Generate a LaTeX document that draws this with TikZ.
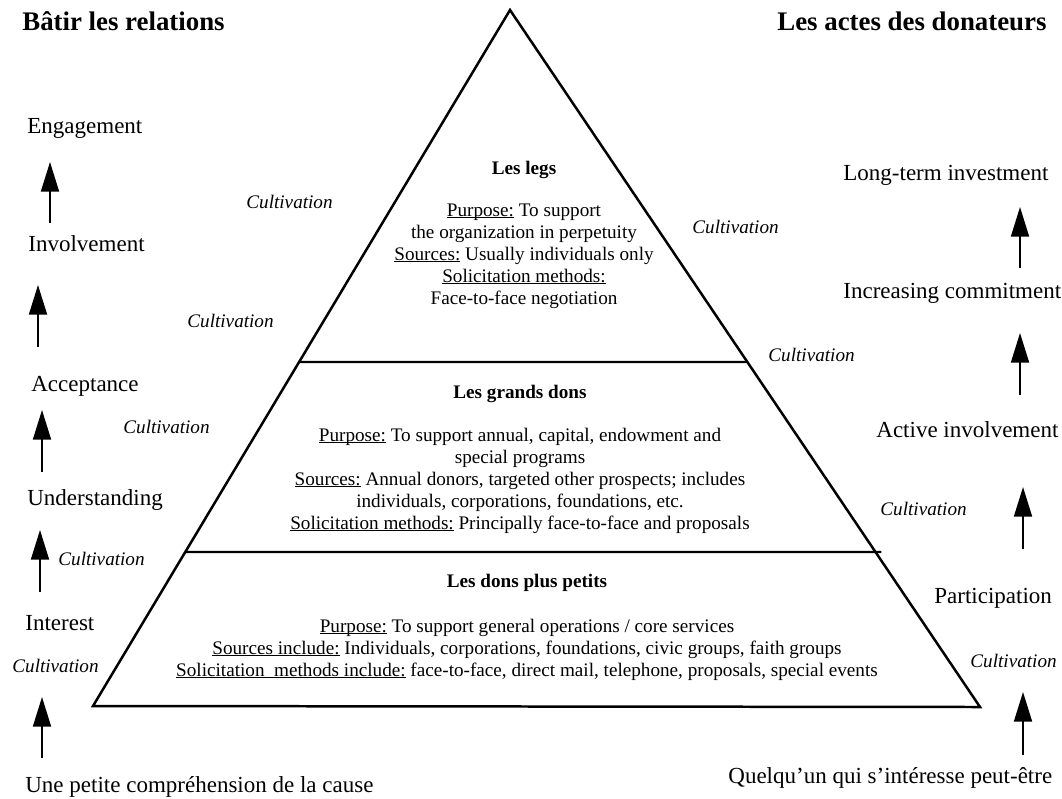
\documentclass[tikz,border=0pt]{standalone}
\usepackage{fontspec}
\setmainfont{Liberation Serif}
\usetikzlibrary{arrows.meta,calc}
\newsavebox\ulbox
\newcommand\ulx[1]{\sbox\ulbox{#1}\rlap{\rule[-1.2pt]{\wd\ulbox}{0.5pt}}\usebox\ulbox}
\begin{document}
\begin{tikzpicture}[x=0.5217pt,y=-0.5217pt,
  lbl/.style={inner sep=0pt, anchor=base west, font=\fontsize{12}{14}\selectfont},
  ttl/.style={inner sep=0pt, anchor=base west, font=\fontsize{14}{16}\selectfont\bfseries},
  cult/.style={inner sep=0pt, anchor=base west, font=\fontsize{10}{12}\selectfont\itshape},
  ptxt/.style={inner sep=0pt, anchor=base, font=\fontsize{10}{12}\selectfont},
  phead/.style={inner sep=0pt, anchor=base, font=\fontsize{10}{12}\selectfont\bfseries},
  pyrline/.style={line width=1.3pt, line join=miter},
  divline/.style={line width=1.1pt},
  arr/.style={line width=1pt, -{Triangle[length=15.5pt,width=9.4pt]}}]
\useasboundingbox (0,0) rectangle (1062,798);

% pyramid
\coordinate (A) at (510,10);
\coordinate (BL) at (93,706);
\coordinate (BR) at (980,707);
\draw[pyrline] (A) -- (BR) -- (BL) -- cycle;
\coordinate (d1l) at ($(A)!0.5057!(BL)$);
\coordinate (d1r) at ($(A)!0.5050!(BR)$);
\coordinate (d2l) at ($(A)!0.7787!(BL)$);
\coordinate (d2r) at ($(A)!0.7776!(BR)+(6,0)$);
\draw[divline] (d1l) -- (d1r);
\draw[divline] (d2l) -- (d2r);

% titles
\node[ttl] (t1) at (22,30) {Bâtir les relations};
\node[ttl] (t2) at (777,30) {Les actes des donateurs};

% left column
\node[lbl] (l1) at (27,133) {Engagement};
\node[lbl] (l2) at (28,251) {Involvement};
\node[lbl] (l3) at (31,391) {Acceptance};
\node[lbl] (l4) at (27,505) {Understanding};
\node[lbl] (l5) at (25,630) {Interest};
\node[lbl] (l6) at (25,792) {Une petite compréhension de la cause};

\coordinate (la1s) at (50,223); \coordinate (la1e) at (50,162);
\coordinate (la2s) at (38,347); \coordinate (la2e) at (38,285);
\coordinate (la3s) at (42,472); \coordinate (la3e) at (42,410);
\coordinate (la4s) at (40,592); \coordinate (la4e) at (40,530);
\coordinate (la5s) at (42,758); \coordinate (la5e) at (42,697);
\draw[arr] (la1s) -- (la1e);
\draw[arr] (la2s) -- (la2e);
\draw[arr] (la3s) -- (la3e);
\draw[arr] (la4s) -- (la4e);
\draw[arr] (la5s) -- (la5e);

\node[cult] (lc1) at (246,208) {Cultivation};
\node[cult] (lc2) at (187,327) {Cultivation};
\node[cult] (lc3) at (123,433) {Cultivation};
\node[cult] (lc4) at (58,565) {Cultivation};
\node[cult] (lc5) at (12,672) {Cultivation};

% right column
\node[lbl] (r1) at (843,180) {Long-term investment};
\node[lbl] (r2) at (843,298) {Increasing commitment};
\node[lbl] (r3) at (876,437) {Active involvement};
\node[lbl] (r4) at (934,603) {Participation};
\node[lbl] (r5) at (728,783) {Quelqu’un qui s’intéresse peut-être};

\coordinate (ra1s) at (1020,268); \coordinate (ra1e) at (1020,207);
\coordinate (ra2s) at (1020,395); \coordinate (ra2e) at (1020,333);
\coordinate (ra3s) at (1023,549); \coordinate (ra3e) at (1023,487);
\coordinate (ra4s) at (1023,755); \coordinate (ra4e) at (1023,692);
\draw[arr] (ra1s) -- (ra1e);
\draw[arr] (ra2s) -- (ra2e);
\draw[arr] (ra3s) -- (ra3e);
\draw[arr] (ra4s) -- (ra4e);

\node[cult] (rc1) at (692,233) {Cultivation};
\node[cult] (rc2) at (768,361) {Cultivation};
\node[cult] (rc3) at (880,515) {Cultivation};
\node[cult] (rc4) at (970,667) {Cultivation};

% top section
\node[phead] (p1h) at (524,174) {Les legs};
\node[ptxt] (p1a) at (524,216) {\ulx{Purpose:} To support};
\node[ptxt] (p1b) at (524,238) {the organization in perpetuity};
\node[ptxt] (p1c) at (524,260) {\ulx{Sources:} Usually individuals only};
\node[ptxt] (p1d) at (524,282) {\ulx{Solicitation methods:}};
\node[ptxt] (p1e) at (524,304) {Face-to-face negotiation};

% middle section
\node[phead] (p2h) at (520,398) {Les grands dons};
\node[ptxt] (p2a) at (520,441) {\ulx{Purpose:} To support annual, capital, endowment and};
\node[ptxt] (p2b) at (520,463) {special programs};
\node[ptxt] (p2c) at (520,485) {\ulx{Sources:} Annual donors, targeted other prospects; includes};
\node[ptxt] (p2d) at (520,507) {individuals, corporations, foundations, etc.};
\node[ptxt] (p2e) at (520,529) {\ulx{Solicitation methods:} Principally face-to-face and proposals};

% bottom section
\node[phead] (p3h) at (527,587) {Les dons plus petits};
\node[ptxt] (p3a) at (527,632) {\ulx{Purpose:} To support general operations / core services};
\node[ptxt] (p3b) at (527,654) {\ulx{Sources include:} Individuals, corporations, foundations, civic groups, faith groups};
\node[ptxt] (p3c) at (527,676) {\ulx{Solicitation\ \ methods include:} face-to-face, direct mail, telephone, proposals, special events};
\end{tikzpicture}
\end{document}
